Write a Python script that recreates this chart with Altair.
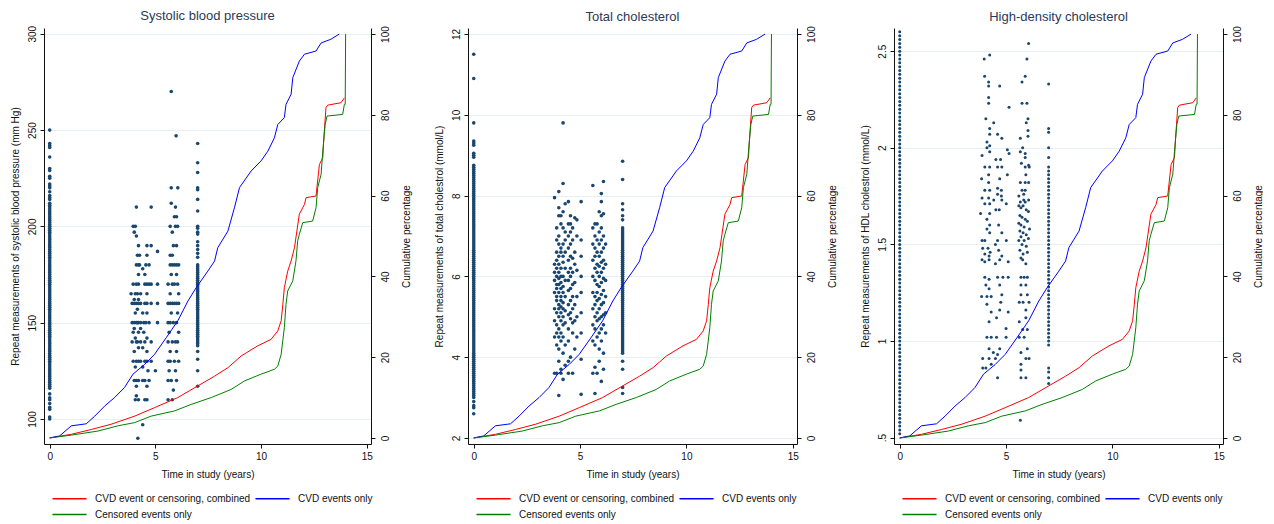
import altair as alt
import pandas as pd

# ---------------- cumulative percentage curves (right axis, shared by all panels)
SERIES = ["CVD event or censoring, combined", "CVD events only", "Censored events only"]
SERIES_COLORS = ["#ff0000", "#0000ff", "#008000"]

RED_T = [0, 1.02, 1.97, 2.91, 4.02, 4.96, 6.06, 7.01, 7.8, 8.43, 9.06, 9.84, 10.47, 10.79,
         10.95, 11.03, 11.1, 11.26, 11.42, 11.58, 11.81, 12.05, 12.13, 12.6, 12.76, 12.92,
         12.96, 13.07, 13.15, 13.78, 13.94]
RED_P = [0, 0.9, 2.1, 3.4, 5.4, 7.5, 10, 12.9, 15.3, 17.4, 20.3, 22.8, 24.4, 26.5,
         29, 33.1, 37.2, 41.3, 43.8, 47.1, 55.4, 57.8, 59.5, 59.9, 67.7, 69.4,
         73.5, 81.8, 82.4, 83, 84.2]

BLUE_T = [0, 0.47, 1.02, 1.73, 2.13, 2.6, 3.07, 3.54, 3.94, 4.49, 4.96, 5.51, 6.06, 6.54,
          6.93, 7.48, 7.8, 7.95, 8.43, 8.74, 8.98, 9.53, 10.0, 10.32, 10.63, 10.79, 11.1,
          11.18, 11.42, 11.5, 11.81, 12.05, 12.6, 12.84, 13.3, 13.7]
BLUE_P = [0, 0.5, 3.0, 3.5, 5.4, 7.9, 10, 12.5, 15.8, 18.2, 20.7, 24.8, 29, 33.9,
          37.2, 41.3, 43.8, 47.1, 51.2, 57, 62, 66.1, 68.6, 71, 74.3, 77.6, 79.3,
          82.6, 85.1, 89.2, 93.3, 95, 95.8, 97.8, 98.7, 100]

GREEN_T = [0, 1.02, 2.28, 3.23, 4.02, 4.8, 5.91, 6.69, 7.64, 8.58, 9.21, 10.0, 10.63, 10.79,
           10.95, 11.1, 11.18, 11.26, 11.5, 11.65, 11.73, 11.81, 11.97, 12.44, 12.6, 12.68,
           12.84, 12.92, 13.03, 13.12, 13.86, 13.94, 13.98, 14.0]
GREEN_P = [0, 0.7, 1.7, 3.0, 3.8, 5.4, 6.7, 8.3, 10, 12, 14.1, 15.8, 17, 17.8,
           20.7, 27.3, 33.1, 36.4, 38.9, 43.8, 48.8, 50.4, 53.3, 53.7, 57, 62,
           65.3, 71, 77.6, 79.7, 80.1, 82.6, 82.6, 100]

# ---------------- systolic blood pressure (mm Hg)
SBP_T0 = [250, 243, 242, 241, 236, 230, 229, 226, 225, 222, 221, 220, 218, 216, 215, 214,
          212, 211, 210, 209, 208, 207, 206, 205, 204, 203, 202, 201, 200, 199, 198, 197,
          196, 195, 194, 193, 192, 191, 190, 189, 188, 187, 186, 185, 184, 183, 182, 181,
          180, 179, 178, 177, 176, 175, 174, 173, 172, 171, 170, 169, 168, 167, 166, 165,
          164, 163, 162, 161, 160, 159, 158, 157, 156, 155, 154, 153, 152, 151, 150, 149,
          148, 147, 146, 145, 144, 143, 142, 141, 140, 139, 138, 137, 136, 135, 134, 133,
          132, 131, 130, 129, 128, 127, 126, 125, 124, 123, 122, 121, 120, 119, 118, 117,
          116, 113, 111, 110, 108, 106, 105, 101, 100]
SBP_VISITS = [
    (4.10, 210), (4.80, 210), (3.95, 200), (4.05, 200), (4.00, 197), (4.10, 195), (4.20, 190),
    (4.60, 190), (4.80, 190), (5.10, 187), (4.15, 185), (4.25, 185), (4.60, 185), (4.10, 180),
    (4.20, 180), (4.25, 180), (4.55, 180), (4.70, 180), (4.40, 178), (4.20, 175), (4.50, 175),
    (3.95, 170), (4.10, 170), (4.20, 170), (4.50, 170), (4.60, 170), (4.70, 170), (4.80, 170),
    (5.10, 170), (3.85, 165), (4.05, 165), (4.15, 165), (4.30, 165), (4.60, 165), (4.00, 162),
    (4.20, 162), (3.90, 160), (4.00, 160), (4.10, 160), (4.20, 160), (4.30, 160), (4.50, 160),
    (4.60, 160), (4.80, 160), (5.10, 160), (4.15, 157), (4.05, 155), (4.40, 155), (4.60, 155),
    (3.90, 150), (4.00, 150), (4.10, 150), (4.15, 150), (4.20, 150), (4.30, 150), (4.45, 150),
    (4.55, 150), (4.70, 150), (5.10, 150), (4.00, 147), (4.30, 147), (3.95, 145), (4.20, 145),
    (4.45, 145), (4.05, 142), (4.60, 142), (3.90, 140), (4.10, 140), (4.15, 140), (4.30, 140),
    (4.50, 140), (4.80, 140), (4.20, 137), (4.40, 137), (4.00, 135), (4.60, 135), (3.95, 130),
    (4.10, 130), (4.20, 130), (4.30, 130), (4.50, 130), (4.60, 130), (4.80, 130), (4.05, 127),
    (4.40, 127), (4.65, 125), (5.00, 125), (4.00, 120), (4.10, 120), (4.20, 120), (4.40, 120),
    (4.50, 120), (4.70, 120), (4.10, 117), (4.60, 117), (4.10, 112), (4.05, 110), (4.20, 110),
    (4.50, 110), (4.60, 110), (4.40, 97), (4.17, 90),
    (5.75, 270), (5.98, 247), (5.75, 220), (6.06, 220), (5.75, 212), (5.95, 210), (5.90, 205),
    (6.00, 205), (5.70, 200), (5.95, 200), (6.05, 200), (5.80, 197), (5.85, 190), (6.00, 190),
    (5.70, 185), (5.80, 185), (5.70, 180), (5.80, 180), (5.90, 180), (6.00, 180), (6.10, 180),
    (5.75, 175), (6.00, 175), (5.60, 170), (5.80, 170), (5.90, 170), (6.05, 170), (5.70, 165),
    (6.10, 165), (5.60, 160), (5.70, 160), (5.80, 160), (5.90, 160), (6.00, 160), (6.10, 160),
    (5.75, 155), (6.05, 155), (5.60, 150), (5.70, 150), (5.85, 150), (6.00, 150), (5.65, 145),
    (6.10, 145), (5.60, 140), (5.80, 140), (5.95, 140), (6.05, 140), (5.70, 135), (6.00, 135),
    (5.60, 130), (5.70, 130), (5.90, 130), (6.10, 130), (5.65, 125), (5.95, 125), (5.60, 120),
    (5.75, 120), (6.00, 120), (5.85, 115), (5.60, 110), (5.80, 110),
]
SBP_T7 = [243, 233, 228, 220, 219, 214, 208, 200, 199, 197, 196, 192, 190, 188, 186, 184,
          180, 179, 178, 177, 176, 175, 174, 173, 172, 171, 170, 169, 168, 167, 166, 165,
          164, 163, 162, 161, 160, 159, 158, 157, 156, 155, 154, 153, 152, 151, 150, 149,
          148, 147, 146, 145, 144, 143, 142, 141, 140, 139, 138, 135, 131, 125, 117]

# ---------------- total cholesterol (mmol/L)
TC_T0 = [11.5, 10.9, 9.8, 9.35, 9.3, 9.25, 9.05, 9.0, 8.95, 8.75, 8.7, 8.65, 8.6, 8.55,
         8.50, 8.45, 8.40, 8.35, 8.30, 8.25, 8.20, 8.15, 8.10, 8.05,
         8.00, 7.95, 7.90, 7.85, 7.80, 7.75, 7.70, 7.65, 7.60, 7.55,
         7.50, 7.45, 7.40, 7.35, 7.30, 7.25, 7.20, 7.15, 7.10, 7.05,
         7.00, 6.95, 6.90, 6.85, 6.80, 6.75, 6.70, 6.65, 6.60, 6.55,
         6.50, 6.45, 6.40, 6.35, 6.30, 6.25, 6.20, 6.15, 6.10, 6.05,
         6.00, 5.95, 5.90, 5.85, 5.80, 5.75, 5.70, 5.65, 5.60, 5.55,
         5.50, 5.45, 5.40, 5.35, 5.30, 5.25, 5.20, 5.15, 5.10, 5.05,
         5.00, 4.95, 4.90, 4.85, 4.80, 4.75, 4.70, 4.65, 4.60, 4.55,
         4.50, 4.45, 4.40, 4.35, 4.30, 4.25, 4.20, 4.15, 4.10, 4.05,
         4.00, 3.95, 3.90, 3.85, 3.80, 3.75, 3.70, 3.65, 3.60, 3.55,
         3.50, 3.45, 3.40, 3.35, 3.30, 3.25, 3.20, 3.15, 3.10, 3.05,
         3.00, 2.9, 2.8, 2.75, 2.6]
TC_VISITS = [
    (3.80, [7.95, 6.3, 6.1, 5.9, 5.6, 5.2, 4.9, 4.5, 3.6]),
    (3.90, [7.2, 6.9, 6.6, 6.4, 6.2, 6.0, 5.8, 5.7, 5.5, 5.4, 5.1, 4.8, 4.6, 4.3, 3.6]),
    (4.00, [8.1, 7.7, 7.5, 7.0, 6.8, 6.5, 6.3, 6.1, 5.95, 5.8, 5.6, 5.3, 5.2, 5.0, 4.7, 4.5,
            4.2, 3.9, 3.05]),
    (4.10, [7.5, 7.3, 6.7, 6.6, 6.2, 6.0, 5.85, 5.7, 5.5, 5.4, 5.25, 5.1, 4.9, 4.6, 4.4, 3.7,
            3.6]),
    (4.20, [9.8, 8.3, 7.6, 7.2, 6.8, 6.5, 6.35, 6.0, 5.75, 5.6, 5.35, 5.2, 5.0, 4.8, 4.5, 4.1,
            3.45]),
    (4.30, [7.8, 7.1, 6.9, 6.6, 6.2, 5.9, 5.5, 5.15, 4.85, 4.3, 3.8]),
    (4.45, [7.85, 7.3, 7.0, 6.7, 6.4, 6.1, 5.9, 5.65, 5.3, 5.05, 4.7, 4.4, 3.9, 3.6]),
    (4.55, [7.5, 7.3, 7.1, 6.8, 6.5, 6.2, 6.0, 5.7, 5.4, 5.1, 4.95, 4.0]),
    (4.65, [7.2, 6.9, 6.45, 6.1, 5.8, 5.5, 5.2, 4.85, 4.6, 3.6]),
    (4.75, [7.45, 6.6, 6.3, 5.85, 5.3, 4.9, 4.2]),
    (4.85, [7.4, 7.0, 6.15, 5.5, 5.0, 4.5]),
    (5.05, [7.85, 6.9, 6.5, 6.0, 5.6, 5.1, 4.6, 3.95, 3.08]),
    (5.60, [8.25, 7.2, 6.8, 6.4, 6.0, 5.6, 5.2, 4.8, 4.4, 3.6]),
    (5.70, [7.3, 7.0, 6.7, 6.5, 6.2, 5.9, 5.5, 5.3, 5.0, 4.7, 4.3, 3.75, 3.1]),
    (5.80, [7.3, 6.9, 6.6, 6.3, 6.1, 5.8, 5.6, 5.4, 5.1, 4.9, 4.5, 3.6]),
    (5.90, [7.6, 7.1, 6.8, 6.5, 6.25, 6.0, 5.75, 5.45, 5.2, 4.95, 4.6, 4.2, 3.9]),
    (6.00, [8.05, 7.85, 7.5, 7.2, 6.9, 6.6, 6.35, 6.1, 5.85, 5.55, 5.3, 5.0, 4.7, 4.4, 3.4]),
    (6.10, [8.35, 7.55, 7.0, 6.7, 6.4, 6.2, 5.95, 5.65, 5.35, 5.05, 4.8, 4.1, 3.7]),
    (6.20, [6.8, 6.3, 5.9, 5.5, 5.1, 4.6]),
]
TC_T7 = [8.85, 8.4, 7.8, 7.65, 7.5, 7.4,
         7.20, 7.15, 7.10, 7.05, 7.00, 6.95, 6.90, 6.85, 6.80, 6.75, 6.70, 6.65, 6.60, 6.55,
         6.50, 6.45, 6.40, 6.35, 6.30, 6.25, 6.20, 6.15, 6.10, 6.05, 6.00, 5.95, 5.90, 5.85,
         5.80, 5.75, 5.70, 5.65, 5.60, 5.55, 5.50, 5.45, 5.40, 5.35, 5.30, 5.25, 5.20, 5.15,
         5.10, 5.05, 5.00, 4.95, 4.90, 4.85, 4.80, 4.75, 4.70, 4.65, 4.60, 4.55, 4.50, 4.45,
         4.40, 4.35, 4.30, 4.25, 4.20, 4.15, 4.10, 3.9, 3.7, 3.25, 3.1]

# ---------------- HDL cholesterol (mmol/L)
HDL_T0 = [0.52, 0.54, 0.56, 0.58, 0.60, 0.62, 0.64, 0.66, 0.68, 0.70, 0.72, 0.74, 0.76, 0.78,
          0.80, 0.82, 0.84, 0.86, 0.88, 0.90, 0.92, 0.94, 0.96, 0.98, 1.00, 1.02, 1.04, 1.06,
          1.08, 1.10, 1.12, 1.14, 1.16, 1.18, 1.20, 1.22, 1.24, 1.26, 1.28, 1.30, 1.32, 1.34,
          1.36, 1.38, 1.40, 1.42, 1.44, 1.46, 1.48, 1.50, 1.52, 1.54, 1.56, 1.58, 1.60, 1.62,
          1.64, 1.66, 1.68, 1.70, 1.72, 1.74, 1.76, 1.78, 1.80, 1.82, 1.84, 1.86, 1.88, 1.90,
          1.92, 1.94, 1.96, 1.98, 2.00, 2.02, 2.04, 2.06, 2.08, 2.10, 2.12, 2.14, 2.16, 2.18,
          2.20, 2.22, 2.24, 2.26, 2.28, 2.30, 2.32, 2.34, 2.36, 2.38, 2.40, 2.42, 2.44, 2.46,
          2.48, 2.50, 2.52, 2.54, 2.56, 2.58, 2.60]
HDL_VISITS = [
    (3.97, 2.46), (4.23, 2.48), (3.99, 2.37), (4.18, 2.34), (4.18, 2.32), (4.70, 2.32),
    (4.18, 2.26), (4.18, 2.23), (5.14, 2.21), (4.05, 2.15), (4.42, 2.13), (4.23, 2.10),
    (4.23, 2.07), (4.60, 2.07), (4.80, 2.05), (4.10, 2.03), (4.23, 2.01), (4.10, 2.00),
    (4.23, 1.98), (3.87, 1.96), (5.06, 1.99), (5.14, 1.97), (4.52, 1.94), (4.74, 1.94),
    (4.00, 1.90), (4.23, 1.90), (4.60, 1.90), (4.80, 1.90), (4.18, 1.86), (5.06, 1.86),
    (3.85, 1.84), (4.70, 1.84), (4.18, 1.82), (4.00, 1.78), (4.23, 1.78), (4.60, 1.79),
    (4.78, 1.78), (4.60, 1.76), (4.78, 1.75), (3.87, 1.74), (4.18, 1.74), (4.42, 1.73),
    (4.80, 1.73), (5.01, 1.71), (4.00, 1.71), (4.23, 1.71), (4.52, 1.68), (4.68, 1.68),
    (4.23, 1.66), (3.80, 1.66), (4.10, 1.63), (4.23, 1.60), (4.65, 1.60), (4.10, 1.58),
    (4.23, 1.56), (4.80, 1.56), (3.87, 1.52), (4.00, 1.52), (4.60, 1.52), (5.01, 1.52),
    (3.90, 1.48), (4.15, 1.48), (4.25, 1.46), (4.50, 1.50), (4.65, 1.47), (4.80, 1.44),
    (4.20, 1.44), (4.00, 1.45), (3.87, 1.42), (4.00, 1.41), (4.20, 1.42), (4.50, 1.40),
    (4.70, 1.42), (5.10, 1.41), (4.00, 1.33), (4.20, 1.32), (4.60, 1.33), (4.85, 1.33),
    (5.10, 1.33), (4.05, 1.29), (4.20, 1.27), (4.70, 1.29), (4.80, 1.24), (3.85, 1.23),
    (4.10, 1.23), (4.30, 1.23), (4.75, 1.20), (4.10, 1.19), (4.30, 1.15), (4.70, 1.16),
    (5.10, 1.15), (4.20, 1.10), (4.55, 1.12), (4.10, 1.02), (4.30, 1.02), (4.55, 1.02),
    (5.00, 1.065), (5.00, 1.02), (4.20, 0.96), (4.40, 0.94), (4.70, 0.96), (3.90, 0.91),
    (4.20, 0.91), (4.50, 0.91), (4.60, 0.93), (3.90, 0.86), (4.05, 0.86), (4.30, 0.88),
    (4.60, 0.81),
    (6.06, 2.54), (5.98, 2.46), (5.90, 2.37), (5.75, 2.34), (5.75, 2.23), (5.98, 2.23),
    (6.03, 2.15), (5.95, 2.13), (6.03, 2.09), (6.03, 2.06), (5.67, 2.05), (5.78, 2.00),
    (5.67, 1.98), (5.90, 1.97), (5.90, 1.95), (5.72, 1.92), (5.90, 1.90), (6.09, 1.90),
    (6.06, 1.91), (5.93, 1.86), (5.67, 1.82), (5.90, 1.82), (6.06, 1.82), (5.75, 1.78),
    (5.90, 1.78), (5.83, 1.76), (5.60, 1.75), (5.83, 1.73), (6.06, 1.73), (5.67, 1.72),
    (5.90, 1.72), (5.60, 1.70), (5.70, 1.69), (5.80, 1.70), (5.95, 1.68), (6.05, 1.67),
    (5.65, 1.65), (5.75, 1.64), (5.90, 1.63), (6.00, 1.62), (5.60, 1.61), (5.70, 1.60),
    (5.85, 1.59), (6.10, 1.58), (5.65, 1.57), (5.80, 1.56), (5.95, 1.55), (5.70, 1.54),
    (6.05, 1.53), (5.60, 1.52), (5.85, 1.52), (5.75, 1.50), (5.95, 1.49), (5.65, 1.47),
    (6.00, 1.46), (5.80, 1.45), (5.70, 1.43), (5.78, 1.42), (5.93, 1.40), (5.70, 1.33),
    (5.85, 1.33), (6.00, 1.33), (5.70, 1.29), (5.93, 1.29), (5.70, 1.24), (6.00, 1.24),
    (5.62, 1.20), (5.80, 1.20), (6.08, 1.20), (5.93, 1.16), (5.62, 1.10), (5.93, 1.12),
    (5.78, 1.06), (6.00, 1.06), (5.62, 1.02), (5.85, 1.02), (6.00, 0.96), (5.70, 0.94),
    (5.93, 0.91), (6.08, 0.91), (5.70, 0.88), (5.70, 0.85), (5.70, 0.81), (5.93, 0.81),
    (5.67, 0.59),
]
HDL_T7 = [2.33, 2.10, 2.08, 2.00, 1.95, 1.90, 1.88, 1.86, 1.84, 1.82, 1.80, 1.78, 1.76,
          1.74, 1.72, 1.70, 1.68, 1.66, 1.64, 1.62, 1.60, 1.58, 1.56, 1.54, 1.52, 1.50,
          1.48, 1.46, 1.44, 1.42, 1.40, 1.38, 1.36, 1.34, 1.32, 1.30, 1.28, 1.26, 1.24,
          1.22, 1.20, 1.18, 1.16, 1.14, 1.12, 1.10, 1.08, 1.06, 1.04, 1.02, 1.00, 0.98,
          0.86, 0.84, 0.81, 0.78]

FONT = "Liberation Sans"
POINT_COLOR = "#1a476f"
X_DOMAIN = [-0.27, 15.2]
PCT_DOMAIN = [-1.5, 101.5]
# legend key: a long horizontal stroke drawn from a small symbol box (sqrt(121) = 11 px)
LEGEND_KEY = "M-3.1,0H3.1"


def curves_frame():
    rows = []
    for name, ts, ps in zip(SERIES, [RED_T, BLUE_T, GREEN_T], [RED_P, BLUE_P, GREEN_P]):
        for i, (t, p) in enumerate(zip(ts, ps)):
            rows.append({"time": t, "pct": p, "series": name, "idx": i})
    return pd.DataFrame(rows)


def points_frame(t0_values, visit_pairs, t7_values):
    rows = [{"time": 0.0, "value": v} for v in t0_values]
    rows += [{"time": t, "value": v} for t, v in visit_pairs]
    rows += [{"time": 7.0, "value": v} for v in t7_values]
    return pd.DataFrame(rows)


def flatten_groups(groups):
    return [(t, v) for t, vals in groups for v in vals]


CURVES = curves_frame()


def panel(title, y_title, points, y_domain, y_ticks, width, dot_size,
          y_format=None, y_label_expr=None):
    x_enc = alt.X(
        "time:Q",
        scale=alt.Scale(domain=X_DOMAIN, nice=False, zero=False),
        axis=alt.Axis(values=[0, 5, 10, 15], title="Time in study (years)", format="d",
                      grid=False, labelPadding=3, titlePadding=8),
    )
    left_axis_args = dict(values=y_ticks, title=y_title, grid=True, labelAngle=270,
                          labelAlign="center", labelBaseline="bottom", labelPadding=3,
                          titlePadding=7)
    if y_format:
        left_axis_args["format"] = y_format
    if y_label_expr:
        left_axis_args["labelExpr"] = y_label_expr

    dots = alt.Chart(points).mark_circle(size=dot_size, color=POINT_COLOR, opacity=1).encode(
        x=x_enc,
        y=alt.Y("value:Q", scale=alt.Scale(domain=y_domain, nice=False, zero=False),
                axis=alt.Axis(**left_axis_args)),
    )

    lines = alt.Chart(CURVES).mark_line(strokeWidth=1).encode(
        x=alt.X("time:Q"),
        y=alt.Y("pct:Q", scale=alt.Scale(domain=PCT_DOMAIN, nice=False, zero=False),
                axis=alt.Axis(orient="right", values=[0, 20, 40, 60, 80, 100],
                              title="Cumulative percentage", grid=False, labelAngle=270,
                              labelAlign="center", labelBaseline="top", labelPadding=5,
                              titleAngle=270, titleBaseline="top", titlePadding=11)),
        color=alt.Color("series:N", title=None,
                        scale=alt.Scale(domain=SERIES, range=SERIES_COLORS),
                        legend=alt.Legend(orient="none", legendX=19, legendY=464,
                                          direction="horizontal", columns=2,
                                          symbolType=LEGEND_KEY, symbolSize=121,
                                          symbolStrokeWidth=1.5, labelFont=FONT,
                                          labelFontSize=10, labelColor="#111",
                                          labelOffset=19, labelLimit=300,
                                          columnPadding=1, rowPadding=4)),
        order=alt.Order("idx:Q"),
    )

    return alt.layer(dots, lines).resolve_scale(y="independent").properties(
        width=width,
        height=416,
        title=alt.TitleParams(text=title, font=FONT, fontSize=13, fontWeight="normal",
                              color="#2a3a58", anchor="middle", frame="group", offset=2),
    )


sbp = panel("Systolic blood pressure",
            "Repeat measurements of systolic blood pressure (mm Hg)",
            points_frame(SBP_T0, SBP_VISITS, SBP_T7),
            [87, 303], [100, 150, 200, 250, 300], 327, 13)

tc = panel("Total cholesterol",
           "Repeat measurements of total cholestrol (mmol/L)",
           points_frame(TC_T0, flatten_groups(TC_VISITS), TC_T7),
           [1.85, 12.15], [2, 4, 6, 8, 10, 12], 329, 13)

hdl = panel("High-density cholesterol",
            "Repeat measurements of HDL cholestrol (mmol/L)",
            points_frame(HDL_T0, HDL_VISITS, HDL_T7),
            [0.467, 2.62], [0.5, 1, 1.5, 2, 2.5], 329, 9,
            y_format="~g", y_label_expr="datum.label == '0.5' ? '.5' : datum.label")

chart = (
    alt.hconcat(sbp, tc, hdl, spacing=23)
    .resolve_scale(color="independent")
    .resolve_legend(color="independent")
    .properties(padding={"left": 10, "top": 10, "right": 0, "bottom": 0}, background="white")
    .configure_view(strokeWidth=0)
    .configure_axis(labelFont=FONT, titleFont=FONT, labelFontSize=10, titleFontSize=10,
                    titleFontWeight="normal", labelColor="#111", titleColor="#111",
                    domainColor="#111", tickColor="#111", tickSize=4, gridColor="#e6eff1",
                    gridWidth=1)
)

chart.save("out.html", embed_options={"renderer": "svg", "actions": False})
